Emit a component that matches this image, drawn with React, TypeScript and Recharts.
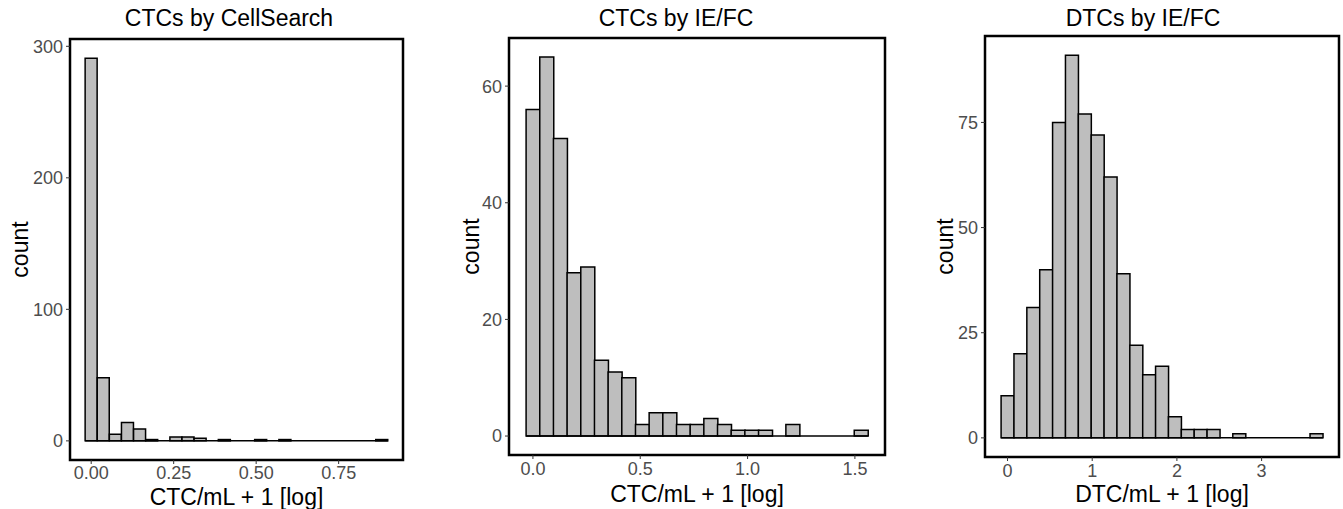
import React from "react";
import { BarChart, Bar, XAxis, YAxis, ReferenceArea, ReferenceLine } from "recharts";

// bin counts (25 bins each)
const cellSearchCounts = [291, 48, 5, 14, 9, 1, 0, 3, 3, 2, 0, 1, 0, 0, 1, 0, 1, 0, 0, 0, 0, 0, 0, 0, 1];
const ctcFlowCounts = [56, 65, 51, 28, 29, 13, 11, 10, 2, 4, 4, 2, 2, 3, 2, 1, 1, 1, 0, 2, 0, 0, 0, 0, 1];
const dtcFlowCounts = [10, 20, 31, 40, 75, 91, 77, 72, 62, 39, 22, 15, 17, 5, 2, 2, 2, 0, 1, 0, 0, 0, 0, 0, 1];

const cellSearchXTicks = [0, 0.25, 0.5, 0.75];
const ctcFlowXTicks = [0, 0.5, 1, 1.5];
const dtcFlowXTicks = [0, 1, 2, 3];

const cellSearchYTicks = [0, 100, 200, 300];
const ctcFlowYTicks = [0, 20, 40, 60];
const dtcFlowYTicks = [0, 25, 50, 75];

const titles = ["CTCs by CellSearch", "CTCs by IE/FC", "DTCs by IE/FC"];
const xTitles = ["CTC/mL + 1 [log]", "CTC/mL + 1 [log]", "DTC/mL + 1 [log]"];

const FONT = "'Liberation Sans', Arial, Helvetica, sans-serif";
const HEIGHT = 509;

interface HistProps {
    counts: number[];
    binWidth: number;
    xTicks: number[];
    digits: number;
    yTicks: number[];
    xTitle: string;
    left: number;
    width: number;
    yAxisWidth: number;
    top: number;
    right: number;
    xAxisHeight: number;
    xTickMargin: number;
    xTitleOffset: number;
    yLabelOffset: number;
}

function Histogram(p: HistProps) {
    const data = p.counts.map((count, i) => ({ x: i * p.binWidth, count }));
    const lo = -p.binWidth / 2;
    const hi = (p.counts.length - 0.5) * p.binWidth;
    const pad = 0.05 * (hi - lo);
    const xDomain: [number, number] = [lo - pad, hi + pad];
    const maxCount = Math.max(...p.counts);
    const yDomain: [number, number] = [-0.05 * maxCount, 1.05 * maxCount];

    return (
        <div style={{ position: "absolute", left: p.left, top: 0 }}>
            <BarChart
                width={p.width}
                height={HEIGHT}
                data={data}
                barCategoryGap={0}
                margin={{ top: p.top, right: p.right, bottom: 0, left: 0 }}
            >
                <XAxis
                    dataKey="x"
                    type="number"
                    domain={xDomain}
                    allowDataOverflow
                    ticks={p.xTicks}
                    interval={0}
                    tickFormatter={(v: number) => v.toFixed(p.digits)}
                    height={p.xAxisHeight}
                    axisLine={false}
                    tickLine={{ stroke: "#333333", strokeWidth: 1 }}
                    tickSize={4}
                    tickMargin={p.xTickMargin}
                    tick={{ fill: "#4d4d4d", fontSize: 18 }}
                    label={{ value: p.xTitle, position: "insideBottom", offset: p.xTitleOffset, fill: "#000", fontSize: 23 }}
                />
                <YAxis
                    type="number"
                    domain={yDomain}
                    allowDataOverflow
                    ticks={p.yTicks}
                    interval={0}
                    width={p.yAxisWidth}
                    axisLine={false}
                    tickLine={{ stroke: "#333333", strokeWidth: 1 }}
                    tickSize={4}
                    tickMargin={3}
                    tick={{ fill: "#4d4d4d", fontSize: 18 }}
                    label={{
                        value: "count",
                        angle: -90,
                        position: "insideLeft",
                        offset: p.yLabelOffset,
                        fill: "#000",
                        fontSize: 23,
                        style: { textAnchor: "middle" },
                    }}
                />
                <ReferenceLine
                    segment={[{ x: lo, y: 0 }, { x: hi, y: 0 }]}
                    stroke="#000"
                    strokeWidth={1.5}
                />
                <Bar
                    dataKey="count"
                    fill="#bebebe"
                    stroke="#000"
                    strokeWidth={1.5}
                    isAnimationActive={false}
                />
                <ReferenceArea
                    x1={xDomain[0]}
                    x2={xDomain[1]}
                    y1={yDomain[0]}
                    y2={yDomain[1]}
                    fill="none"
                    fillOpacity={0}
                    stroke="#000"
                    strokeWidth={2.5}
                    ifOverflow="visible"
                />
            </BarChart>
        </div>
    );
}

export default function App() {
    const titleX = [229, 676, 1143];
    return (
        <div
            style={{
                position: "absolute",
                left: 0,
                top: 0,
                width: 1343,
                height: HEIGHT,
                background: "#fff",
                fontFamily: FONT,
            }}
        >
            <Histogram
                counts={cellSearchCounts}
                binWidth={0.0367}
                xTicks={cellSearchXTicks}
                digits={2}
                yTicks={cellSearchYTicks}
                xTitle={xTitles[0]}
                left={0}
                width={420}
                yAxisWidth={70}
                top={39}
                right={17}
                xAxisHeight={49}
                xTickMargin={2}
                xTitleOffset={4}
                yLabelOffset={20}
            />
            <Histogram
                counts={ctcFlowCounts}
                binWidth={0.0637}
                xTicks={ctcFlowXTicks}
                digits={1}
                yTicks={ctcFlowYTicks}
                xTitle={xTitles[1]}
                left={440}
                width={460}
                yAxisWidth={69}
                top={38}
                right={15}
                xAxisHeight={54}
                xTickMargin={3}
                xTitleOffset={7}
                yLabelOffset={31}
            />
            <Histogram
                counts={dtcFlowCounts}
                binWidth={0.152}
                xTicks={dtcFlowXTicks}
                digits={0}
                yTicks={dtcFlowYTicks}
                xTitle={xTitles[2]}
                left={900}
                width={443}
                yAxisWidth={85}
                top={36}
                right={4}
                xAxisHeight={52}
                xTickMargin={3}
                xTitleOffset={7}
                yLabelOffset={45}
            />
            <svg
                width={1343}
                height={40}
                style={{ position: "absolute", left: 0, top: 0, pointerEvents: "none" }}
            >
                {titles.map((t, i) => (
                    <text key={t} x={titleX[i]} y={26} textAnchor="middle" fontSize={23} fill="#000" fontFamily={FONT}>
                        {t}
                    </text>
                ))}
            </svg>
        </div>
    );
}
